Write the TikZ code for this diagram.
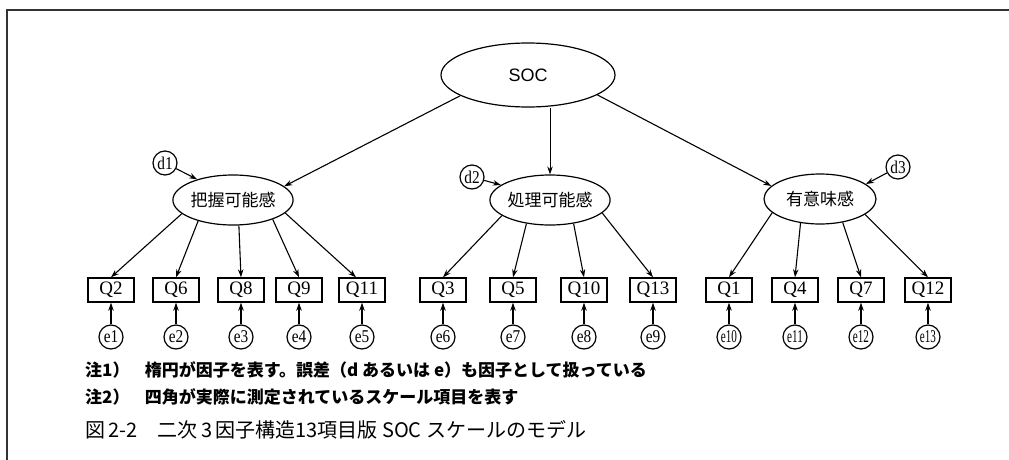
\documentclass[tikz,border=0pt]{standalone}
\usepackage{graphicx}
\usepackage{fontspec}
\setmainfont{Liberation Serif}
\newfontfamily\jp{Noto Sans CJK JP}
\newfontfamily\arial{Liberation Sans}
\usetikzlibrary{shapes.geometric,arrows.meta}
\begin{document}
\begin{tikzpicture}[x=1pt,y=-1pt,
  lat/.style={draw,ellipse,line width=1.2pt,inner sep=0pt},
  fac/.style={lat,minimum width=112pt,minimum height=50pt,font=\jp\fontsize{17}{17}\selectfont},
  obs/.style={draw,rectangle,line width=1.4pt,minimum width=46pt,minimum height=24pt,inner sep=0pt,font=\fontsize{19}{19}\selectfont},
  err/.style={draw,circle,line width=1.2pt,minimum size=24pt,inner sep=0pt,font=\fontsize{18}{18}\selectfont},
  arr/.style={-{Stealth[length=8pt,width=5.5pt]},line width=1.1pt},
  note/.style={anchor=west,inner sep=0pt,font=\jp\bfseries\fontsize{17}{17}\selectfont}]
\path[use as bounding box] (0,0) rectangle (1009,460);
\draw[line width=2pt,black!80] (1009,10) -- (7,10) -- (7,460);
% latent factors
\node[lat,minimum width=174pt,minimum height=64pt,font=\arial\fontsize{18}{18}\selectfont] (soc) at (528,75) {SOC};
\node[fac] (f1) at (233,200) {把握可能感};
\node[fac] (f2) at (550,200) {処理可能感};
\node[fac] (f3) at (820,199) {有意味感};
% disturbances
\node[err] (d1) at (165,163) {\scalebox{0.85}[1]{d1}};
\node[err] (d2) at (472,177) {\scalebox{0.85}[1]{d2}};
\node[err] (d3) at (898,167) {\scalebox{0.85}[1]{d3}};
% observed items
\foreach \n/\x in {2/111,6/176,8/241,9/299,11/362,3/443,5/513,10/584,13/653,1/729,4/795,7/861,12/928}
  \node[obs] (q\n) at (\x,290) {Q\n};
% errors
\foreach \n/\x in {1/111,2/176,3/241,4/299,5/362,6/443,7/513,8/584,9/653}
  \node[err] (e\n) at (\x,337) {\scalebox{0.85}[1]{e\n}};
\foreach \n/\x in {10/729,11/795,12/861,13/928}
  \node[err] (e\n) at (\x,337) {\scalebox{0.62}[1]{e\n}};
% connectors
\draw[arr] (soc.197) -- (f1.15);
\draw[arr,line width=0.9pt] (soc.south -| f2.north) -- (f2.north);
\draw[arr] (soc.-16) -- (f3.165);
\draw[arr] (d1) -- (f1.150);
\draw[arr] (d2) -- (f2.163);
\draw[arr] (d3) -- (f3.18);
\draw[arr] (f1.195) -- (q2.north);
\draw[arr] (f1.211) -- (q6.north);
\draw[arr] (f1.283) -- (q8.north);
\draw[arr] (f1.334) -- (q9.north);
\draw[arr] (f1.346) -- ([xshift=-6pt]q11.north);
\draw[arr] (f2.198) -- (q3.north);
\draw[arr] (f2.225) -- (q5.north);
\draw[arr] (f2.315) -- (q10.north);
\draw[arr] (f2.346) -- (q13.north);
\draw[arr] (f3.196) -- (q1.north);
\draw[arr] (f3.231) -- (q4.north);
\draw[arr] (f3.314) -- (q7.north);
\draw[arr] (f3.341) -- (q12.north);
\foreach \e/\q in {1/2,2/6,3/8,4/9,5/11,6/3,7/5,8/10,9/13,10/1,11/4,12/7,13/12}
  \draw[arr] (e\e) -- (q\q);
% notes
\node[note] (n1) at (85,370) {注1）\hspace{0.9em}楕円が因子を表す。誤差（d あるいは e）も因子として扱っている};
\node[note] (n2) at (85,397) {注2）\hspace{0.9em}四角が実際に測定されているスケール項目を表す};
\node[anchor=west,inner sep=0pt,font=\jp\fontsize{20}{20}\selectfont] (cap) at (85,430) {図\,2-2\hspace{1em}二次\,3\,因子構造13項目版 SOC スケールのモデル};
\end{tikzpicture}
\end{document}
